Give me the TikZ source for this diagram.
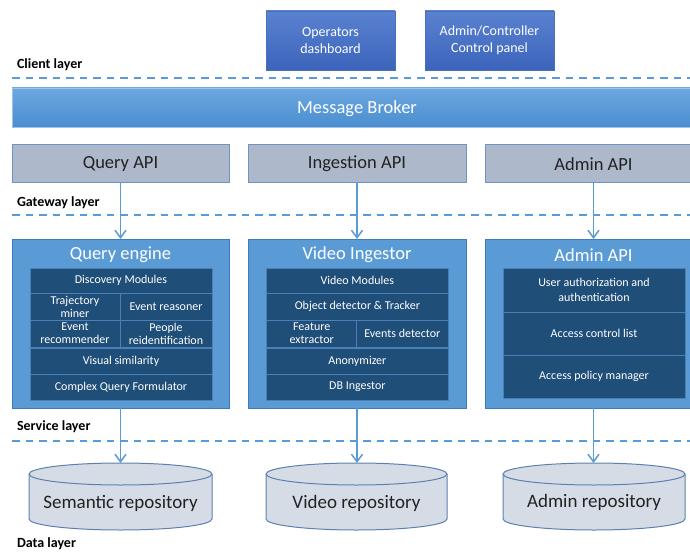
\documentclass[tikz,border=0pt]{standalone}
\usepackage{fontspec}
\setmainfont{Carlito}
\usetikzlibrary{arrows.meta}
\definecolor{clienttop}{HTML}{5B82D0}
\definecolor{clientbot}{HTML}{3B64BB}
\definecolor{clientborder}{HTML}{4A70B8}
\definecolor{brokertop}{HTML}{6CA8E0}
\definecolor{brokerbot}{HTML}{4A8DD0}
\definecolor{brokerborder}{HTML}{9CC3E8}
\definecolor{apifill}{HTML}{ADB9CA}
\definecolor{apiborder}{HTML}{6F93C3}
\definecolor{svcfill}{HTML}{5B9BD5}
\definecolor{svcborder}{HTML}{3F7CBF}
\definecolor{innerfill}{HTML}{1F4E79}
\definecolor{innerborder}{HTML}{4A7FB8}
\definecolor{cylfill}{HTML}{D6DCE5}
\definecolor{cylborder}{HTML}{5C81B0}
\definecolor{flowcol}{HTML}{5B9BD5}
\definecolor{darktext}{HTML}{222222}
\newcommand\repocyl[2]{%
  \pgfmathsetmacro\repor{(#2-#1)/2}%
  \filldraw[cylshape] (#1,-474) -- (#1,-519) arc[start angle=180,end angle=360,x radius=\repor,y radius=11] -- (#2,-474) arc[start angle=0,end angle=180,x radius=\repor,y radius=11] -- cycle;
  \draw[cylshape,fill=none] (#1,-474) arc[start angle=180,end angle=360,x radius=\repor,y radius=11];
}
\begin{document}
\begin{tikzpicture}[x=1pt,y=1pt,
  box/.style={rectangle, inner sep=0pt, outer sep=0pt, align=center},
  clientbox/.style={box, draw=clientborder, line width=0.8pt, top color=clienttop, bottom color=clientbot, text=white, font=\fontsize{14}{17}\selectfont},
  brokerbox/.style={box, draw=brokerborder, line width=0.8pt, top color=brokertop, bottom color=brokerbot, text=white, font=\fontsize{18.5}{20}\selectfont},
  apibox/.style={box, draw=apiborder, line width=1pt, fill=apifill, text=darktext, font=\fontsize{18.5}{20}\selectfont},
  svcbox/.style={box, draw=svcborder, line width=1pt, fill=svcfill},
  svctitle/.style={box, text=white, font=\fontsize{18.5}{20}\selectfont},
  cell/.style={box, draw=innerborder, line width=0.8pt, fill=innerfill, text=white, font=\fontsize{12}{13}\selectfont},
  cylshape/.style={draw=cylborder, line width=1pt, fill=cylfill},
  repotext/.style={box, text=darktext, font=\fontsize{19}{21}\selectfont},
  layerlabel/.style={box, anchor=base west, text=black, font=\fontsize{14}{16}\selectfont\bfseries},
  layerline/.style={draw=flowcol, line width=2pt, dash pattern=on 7.5pt off 6pt},
  flow/.style={draw=flowcol, line width=1.5pt, -{Straight Barb[length=7.5pt,width=11pt,line width=1.5pt]}}
]
\useasboundingbox (0,0) rectangle (690,-556);

% client layer
\node[clientbox, minimum width=129pt, minimum height=59pt] (ops) at (330.5,-40.5) {Operators\\dashboard};
\node[clientbox, minimum width=129pt, minimum height=59pt] (adm) at (489.5,-40.5) {Admin/Controller\\Control panel};
\node[layerlabel] (clientlbl) at (17,-68.5) {Client layer};
\draw[layerline] (12,-78.5) -- (690,-78.5);

% broker
\node[brokerbox, minimum width=682pt, minimum height=39pt] (broker) at (353,-107.5) {};
\node[box, text=white, font=\fontsize{18.5}{20}\selectfont] (brokertxt) at (357,-108.5) {Message Broker};

% gateway layer
\node[apibox, minimum width=217pt, minimum height=38pt] (qapi) at (120.5,-164) {Query API};
\node[apibox, minimum width=218pt, minimum height=38pt] (iapi) at (357,-164) {Ingestion API};
\node[apibox, minimum width=217pt, minimum height=38pt] (aapi) at (593.5,-164) {Admin API};
\node[layerlabel] (gatewaylbl) at (17,-206.5) {Gateway layer};
\draw[layerline] (12,-215) -- (690,-215);

% service layer boxes
\node[svcbox, minimum width=217pt, minimum height=169pt] (qe) at (120.5,-323.5) {};
\node[svcbox, minimum width=218pt, minimum height=169pt] (vi) at (357,-323.5) {};
\node[svcbox, minimum width=217pt, minimum height=169pt] (asvc) at (593.5,-323.5) {};
\node[svctitle] (qetitle) at (120.5,-255) {Query engine};
\node[svctitle] (vititle) at (357,-255) {Video Ingestor};
\node[svctitle] (atitle) at (593.5,-255) {Admin API};

% query engine cells
\node[cell, minimum width=182pt, minimum height=25pt] (dm) at (121,-280.5) {Discovery Modules};
\node[cell, minimum width=90pt, minimum height=27pt] (tm) at (75,-306.5) {Trajectory\\miner};
\node[cell, minimum width=92pt, minimum height=27pt] (er) at (166,-306.5) {Event reasoner};
\node[cell, minimum width=90pt, minimum height=27pt] (erec) at (75,-333.5) {Event\\recommender};
\node[cell, minimum width=92pt, minimum height=27pt] (pr) at (166,-333.5) {People\\reidentification};
\node[cell, minimum width=182pt, minimum height=26pt] (vs) at (121,-361) {Visual similarity};
\node[cell, minimum width=182pt, minimum height=26pt] (cqf) at (121,-387) {Complex Query Formulator};

% video ingestor cells
\node[cell, minimum width=181.3pt, minimum height=25pt] (vm) at (357.35,-280.5) {Video Modules};
\node[cell, minimum width=181.3pt, minimum height=27pt] (odt) at (357.35,-306.5) {Object detector \& Tracker};
\node[cell, minimum width=90pt, minimum height=27pt] (fe) at (311.7,-333.5) {Feature\\extractor};
\node[cell, minimum width=91.3pt, minimum height=27pt] (ed) at (402.35,-333.5) {Events detector};
\node[cell, minimum width=181.3pt, minimum height=26pt] (anon) at (357.35,-361) {Anonymizer};
\node[cell, minimum width=181.3pt, minimum height=26pt] (dbi) at (357.35,-387) {DB Ingestor};

% admin cells
\node[cell, minimum width=182pt, minimum height=44pt, font=\fontsize{12}{14.5}\selectfont] (ua) at (594,-290) {User authorization and\\authentication};
\node[cell, minimum width=182pt, minimum height=43pt] (acl) at (594,-333.5) {Access control list};
\node[cell, minimum width=182pt, minimum height=43pt] (apm) at (594,-376.5) {Access policy manager};

\node[layerlabel] (servicelbl) at (17,-430.5) {Service layer};
\draw[layerline] (12,-440.5) -- (690,-440.5);

% data layer
\repocyl{29}{212}
\repocyl{266}{447}
\repocyl{503}{685}
\node[repotext] (semrepo) at (120.5,-503) {Semantic repository};
\node[repotext] (vidrepo) at (356.5,-503) {Video repository};
\node[repotext] (admrepo) at (594,-502) {Admin repository};
\coordinate (semtop) at (120.5,-463);
\coordinate (vidtop) at (357,-463);
\coordinate (admtop) at (593.5,-463);
\node[layerlabel] (datalbl) at (17,-547) {Data layer};

% connectors
\draw[flow] (qapi.south) -- (qe.north);
\draw[flow] (iapi.south) -- (vi.north);
\draw[flow] (aapi.south) -- (asvc.north);
\draw[flow] (qe.south) -- (semtop);
\draw[flow] (vi.south) -- (vidtop);
\draw[flow] (asvc.south) -- (admtop);
\end{tikzpicture}
\end{document}
